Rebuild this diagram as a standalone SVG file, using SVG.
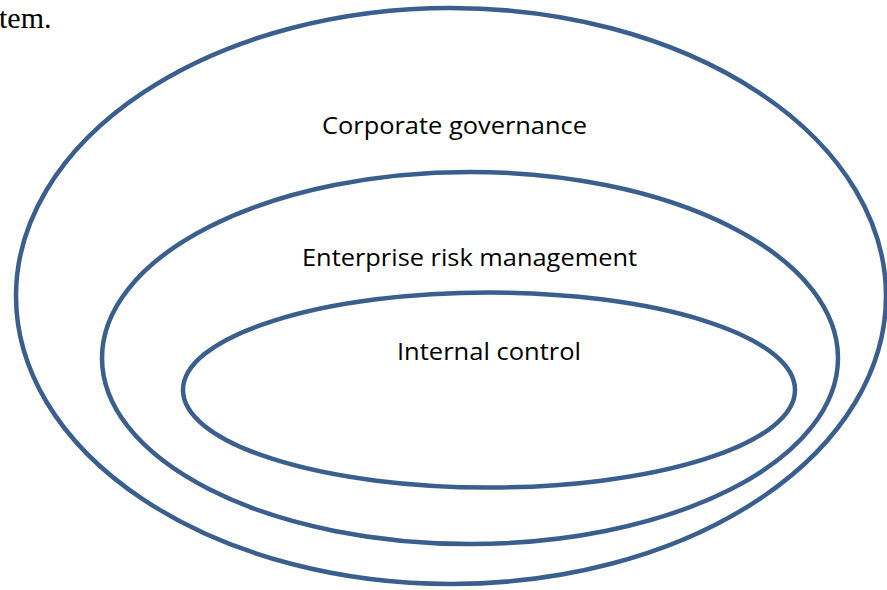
<svg xmlns="http://www.w3.org/2000/svg" width="887" height="590" viewBox="0 0 887 590">
  <style>
    .ring { fill: none; stroke: #3A5F8E; stroke-width: 4.5; }
    .label { font-family: "Open Sans", "Liberation Sans", sans-serif; font-size: 23px; fill: #000; text-anchor: middle; }
    .body { font-family: "Liberation Serif", serif; font-size: 30px; fill: #000; }
  </style>
  <rect width="887" height="590" fill="#fff"/>
  <text class="body" x="-1" y="28">tem.</text>
  <g id="corporate-governance">
    <ellipse class="ring" cx="451" cy="296" rx="435" ry="288"/>
    <text class="label" x="454.5" y="134" textLength="265" lengthAdjust="spacingAndGlyphs">Corporate governance</text>
  </g>
  <g id="enterprise-risk-management">
    <ellipse class="ring" cx="470" cy="358" rx="368" ry="186"/>
    <text class="label" x="469.5" y="266" textLength="335" lengthAdjust="spacingAndGlyphs">Enterprise risk management</text>
  </g>
  <g id="internal-control">
    <ellipse class="ring" cx="489" cy="390" rx="306" ry="97.5"/>
    <text class="label" x="489" y="360" textLength="184" lengthAdjust="spacingAndGlyphs">Internal control</text>
  </g>
  <g id="connectors"/>
</svg>
